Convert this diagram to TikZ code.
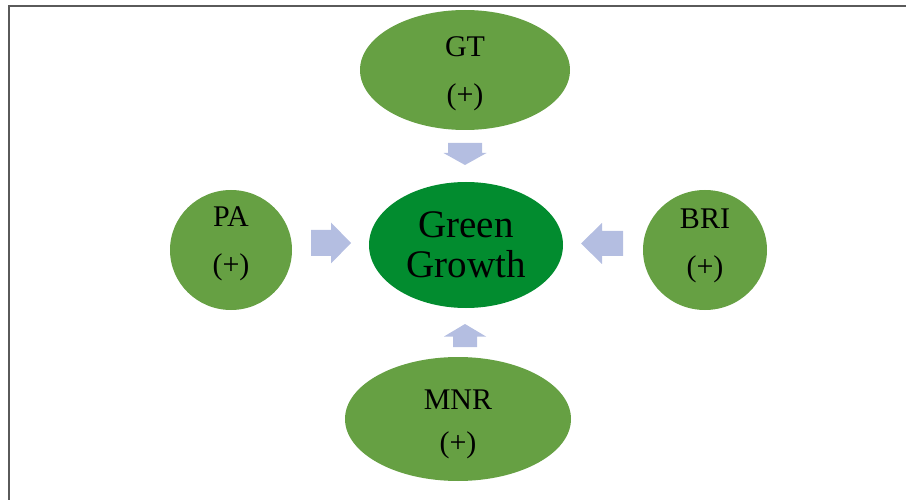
\documentclass[tikz,border=0pt]{standalone}
\usepackage{fontspec}
\setmainfont{Liberation Serif}
\usetikzlibrary{shapes.geometric}
\definecolor{lightgreen}{RGB}{102,160,67}
\definecolor{darkgreen}{RGB}{2,140,47}
\definecolor{arrowblue}{RGB}{180,190,225}
\definecolor{framegray}{RGB}{90,90,90}
\tikzset{
  factor/.style={ellipse, fill=lightgreen, inner sep=0pt},
  factortext/.style={inner sep=0pt, align=center,
    font=\fontsize{30}{48}\selectfont, text=black},
  core/.style={ellipse, fill=darkgreen, inner sep=0pt, align=center,
    font=\fontsize{39}{40}\selectfont, text=black},
  blockarrow/.style={fill=arrowblue, draw=none}
}
\begin{document}
\begin{tikzpicture}[x=1pt,y=-1pt]
\useasboundingbox (0,0) rectangle (906,500);
% frame
\draw[framegray, line width=2pt] (9,500) -- (9,6) -- (906,6);
% nodes
\node[core, minimum width=194pt, minimum height=126pt] (gg) at (466,245) {Green\\Growth};
\node[factor, minimum width=210pt, minimum height=120pt] (gt) at (465,70) {};
\node[factor, minimum width=122pt, minimum height=120pt] (pa) at (231,250) {};
\node[factor, minimum width=124pt, minimum height=120pt] (bri) at (705,250) {};
\node[factor, minimum width=226pt, minimum height=124pt] (mnr) at (458,419) {};
% labels
\node[factortext] (gtl) at (465,74) {GT\\(+)};
\node[factortext] (pal) at (231,244) {PA\\(+)};
\node[factortext] (bril) at (705,245.5) {BRI\\(+)};
\node[factortext, font=\fontsize{30}{43}\selectfont] (mnrl) at (458,424.5) {MNR\\(+)};
% block arrows
% PA -> Green Growth
\fill[blockarrow] (311,230) -- (331,230) -- (331,222.5) -- (351,243) -- (331,263.5) -- (331,256) -- (311,256) -- cycle;
% BRI -> Green Growth
\fill[blockarrow] (623,231) -- (602,231) -- (602,223) -- (581,243.5) -- (602,264) -- (602,256) -- (623,256) -- cycle;
% GT -> Green Growth
\fill[blockarrow] (448,143) -- (482,143) -- (482,153) -- (486.5,153) -- (465,165) -- (443.5,153) -- (448,153) -- cycle;
% MNR -> Green Growth
\fill[blockarrow] (453,347) -- (477,347) -- (477,336.5) -- (486,336.5) -- (465,324) -- (444,336.5) -- (453,336.5) -- cycle;
\end{tikzpicture}
\end{document}
